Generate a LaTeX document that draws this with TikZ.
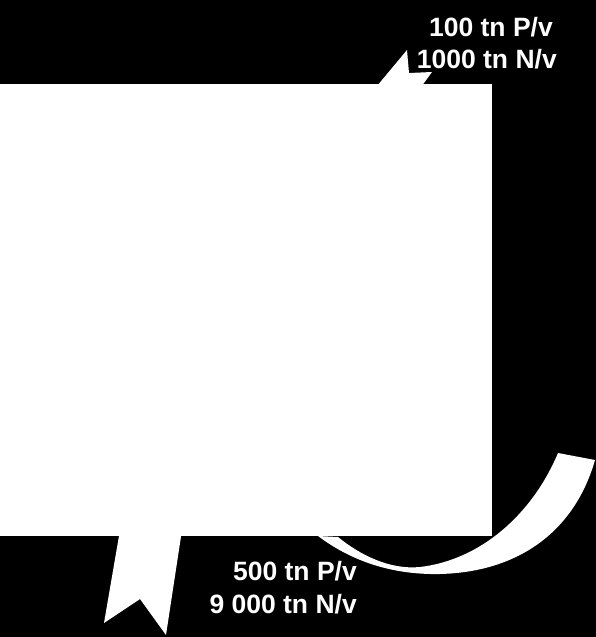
\documentclass[tikz,border=0pt]{standalone}
\usepackage{fontspec}
\setmainfont{Liberation Sans}
\begin{document}
\begin{tikzpicture}[x=1pt,y=-1pt,
  lbl/.style={text=white,font=\fontsize{26.5}{32}\selectfont\bfseries,inner sep=0pt,anchor=base east},
  ribbon/.style={fill=white,draw=none}]
\fill[black] (0,0) rectangle (596,637);
\useasboundingbox (0,0) rectangle (596,637);
% main box
\fill[white] (0,84) rectangle (492,536);
% top ribbon
\fill[white] (372,92) -- (407,50) -- (409,73) -- (432,72) -- (416,94) -- cycle;
% bottom ribbon
\fill[white] (120,530) -- (104,623) -- (140,599) -- (166,635) -- (182,530) -- cycle;
% curved ribbon
\fill[white] (318,536) .. controls (350,560) and (390,575) .. (440,574)
  .. controls (520,572) and (575,530) .. (595,460)
  -- (558,453) .. controls (532,515) and (480,560) .. (420,567)
  .. controls (390,570) and (360,555) .. (338,537) -- cycle;
% labels
\node[lbl] (t1) at (553,36) {100 tn P/v};
\node[lbl] (t2) at (557,68) {1000 tn N/v};
\node[lbl] (b1) at (357,580) {500 tn P/v};
\node[lbl] (b2) at (357,613) {9 000 tn N/v};
\end{tikzpicture}
\end{document}
